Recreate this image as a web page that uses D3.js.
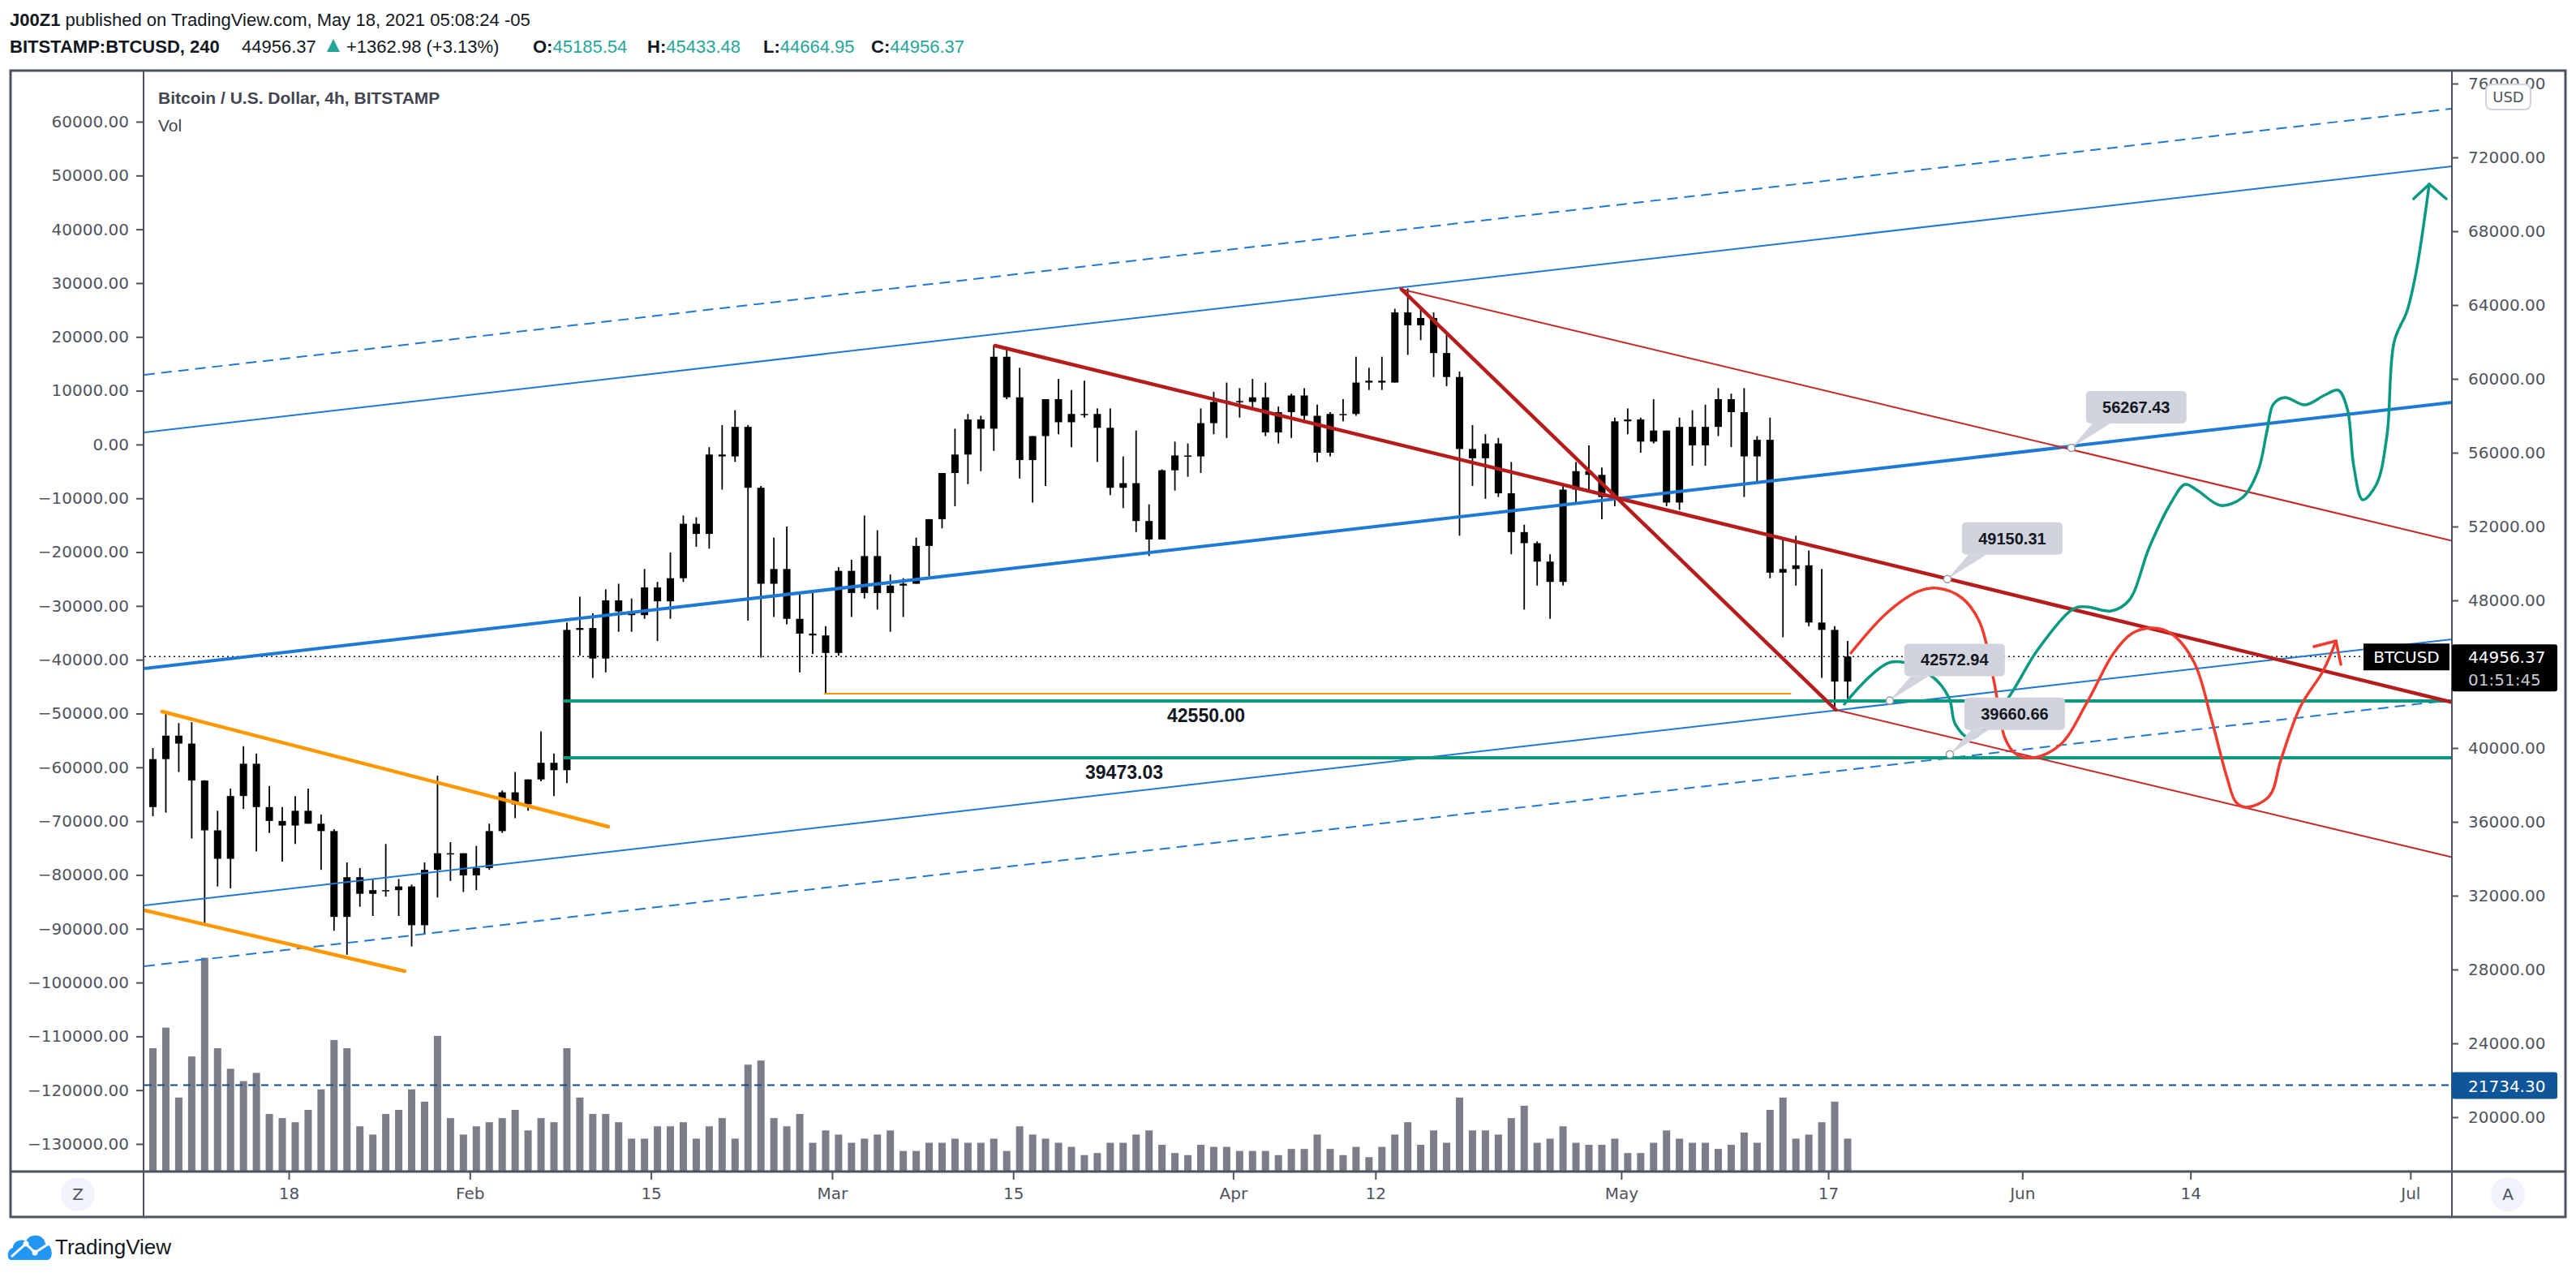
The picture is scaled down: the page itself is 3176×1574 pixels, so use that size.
<!DOCTYPE html>
<html>
<head>
<meta charset="utf-8">
<script src="https://cdn.jsdelivr.net/npm/d3@7"></script>
<style>
  body { margin: 0; background: #fff; }
  text { font-family: "Liberation Sans", Arial, sans-serif; }
  .ax text { font-family: "DejaVu Sans", sans-serif; font-size: 20px; fill: #50535e; }
  .ax line { stroke: #50535e; stroke-width: 2; }
</style>
</head>
<body>
<div id="chart"></div>
<script>
/// Daily candles, Jan 7 - May 18 2021 (BITSTAMP:BTCUSD) ///
var opens = [36800,39400,40670,40240,38240,35540,34000,37400,39150,36800,36050,35800,36600,35900,35500,30850,33000,32100,32300,32300,32500,30400,33400,34300,34300,
  33100,33500,35500,37600,36950,38300,39200,38800,46400,46500,44850,48000,47400,47200,48700,47950,49200,52150,51600,55900,55800,57400,54100,48900,49700,47000,46200,46100,
  45150,49600,48400,50400,48400,48800,48900,50950,52400,54900,55900,57800,57300,61200,59000,55600,56900,58900,57650,58100,58100,57350,54100,54350,52300,51300,55050,55850,55800,57600,58750,
  58800,58750,59000,57100,58200,59100,58000,56000,58100,58100,59800,59900,59800,63600,62900,63300,61400,60100,56200,55700,56500,53800,51700,51100,50100,49000,54000,55000,54800,53600,
  57700,57800,56600,57200,53300,57400,56400,57400,58900,58200,55800,56700,49500,49700,49900,46800,46400,43600];
var highs = [40000,41950,41350,41400,38260,36600,37800,40100,39700,37950,36800,37400,37800,36400,35600,33800,33500,32900,34800,32900,32600,33800,38500,34900,34300,
  34700,35900,37700,38700,38300,40900,39700,46800,48200,47300,48600,48900,48100,49700,49000,50600,52600,52500,56300,57500,58300,57500,54200,51400,52000,48400,48400,46600,
  49800,50200,52600,51800,49400,49200,51400,52400,54900,57300,58100,58000,61800,61700,60600,56900,58900,60000,59400,59900,58400,58400,55800,57200,53200,55100,56600,56500,58400,59300,59800,
  59500,60000,59800,58500,59200,59500,58600,58200,58900,61200,60600,61200,63800,64900,63800,63600,62500,60400,57500,57000,56800,55500,52100,51200,50500,54300,55500,56400,55200,57900,
  58400,57900,58900,57200,57900,58300,58600,59500,59200,59500,56900,57900,51300,51500,50700,49700,46600,45800];
var lows = [36300,36500,38700,35100,30400,32500,32400,36700,34400,35400,33850,34800,35900,33400,30100,28800,31400,30900,31950,30900,29250,29900,31900,32800,32200,
  32300,33400,35400,36200,36600,38200,37400,38100,45000,43800,44100,46300,46300,47000,45800,47000,49000,50900,50800,54000,55500,46900,44900,47100,46700,44100,45100,42950,
  45000,47100,48100,47500,46300,47100,48900,49300,51900,53100,54300,55000,56100,58900,54600,53300,54200,57000,56300,57900,55500,53700,53000,51700,50400,51300,53950,54700,54900,57000,56800,
  57900,58400,56900,56500,56800,57600,55500,55800,57700,58000,59400,59400,59800,61300,62100,60100,59600,51500,54200,53500,53600,50500,47500,48800,47000,48800,53300,53900,52400,53100,
  57000,56000,56500,53100,52900,55300,55300,56900,56300,53600,54400,49200,46000,48800,46600,43800,42100,42500];
var closes = [39400,40670,40240,38240,35540,34000,37400,39150,36800,36050,35800,36600,35900,35500,30850,33000,32100,32300,32300,32500,30400,33400,34300,34300,33100,
  33500,35500,37600,36950,38300,39200,38800,46400,46500,44850,48000,47400,47200,48700,47950,49200,52150,51600,55900,55800,57400,54100,48900,49700,47000,46200,46100,45150,
  49600,48400,50400,48400,48800,48900,50950,52400,54900,55900,57800,57300,61200,59000,55600,56900,58900,57650,58100,58100,57350,54100,54350,52300,51300,55050,55850,55800,57600,58750,58800,
  58750,59000,57100,58200,59100,58000,56000,58100,58100,59800,59900,59800,63600,62900,63300,61400,60100,56200,55700,56500,53800,51700,51100,50100,49000,54000,55000,54800,53600,57700,
  57800,56600,57200,53300,57400,56400,57400,58900,58200,55800,56700,49500,49700,49900,46800,46400,43600,44956.37];
var volumes = [30000,35000,18000,28000,52000,30000,25000,22000,24000,14000,13000,12000,15000,20000,32000,30000,11000,9000,14000,15000,20000,17000,33000,13000,9000,
  11000,12000,13000,15000,10000,13000,12000,30000,18000,14000,14000,12000,8000,8000,11000,11000,12000,8000,11000,13000,8000,26000,27000,13000,11000,14000,7000,10000,
  9000,7000,8000,9000,10000,5000,5000,7000,7000,8000,7000,7000,8000,5000,11000,9000,8000,7000,6000,4000,4500,7000,7000,9000,10000,6500,4500,4000,6500,6000,6000,
  5000,5000,5000,4000,5500,5500,9000,5500,4000,6000,3500,6000,9000,12000,6500,10000,7000,18000,10000,10000,9000,13000,16000,7000,8000,11000,7000,6500,6500,8000,
  4500,4500,7000,10000,8000,7000,7000,5500,6500,9500,7000,15000,18000,8000,9000,12000,17000,8000];

/// Axis ticks ///
var timeTicks = ["2021-01-18","2021-02-01","2021-02-15","2021-03-01","2021-03-15","2021-04-01","2021-04-12","2021-05-01","2021-05-17","2021-06-01","2021-06-14","2021-07-01"];
var timeLabels = ["18","Feb","15","Mar","15","Apr","12","May","17","Jun","14","Jul"];
// 44000 sits under the last-price label, so the price scale leaves it out
var rightTicks = [20000,24000,28000,32000,36000,40000,48000,52000,56000,60000,64000,68000,72000,76000];
var leftTicks = d3.range(-130000, 60001, 10000);

/// Drawings: [date, price] ///
var blueUpperDash = [["2021-01-07", 60233], ["2021-07-03", 74545]];
var blueUpper = [["2021-01-07", 57112], ["2021-07-03", 71424]];
var blueMid = [["2021-01-07", 44320], ["2021-07-03", 58632]];
var blueLower = [["2021-01-07", 31486], ["2021-07-03", 45798]];
var blueLowerDash = [["2021-01-07", 28189], ["2021-07-03", 42501]];
var orangeUpper = [["2021-01-08 05:00", 41978], ["2021-02-11 17:00", 35736]];
var orangeLower = [["2021-01-06 20:10", 31209], ["2021-01-26 23:00", 27912]];
var orangeFlat = [["2021-02-28 10:00", 42950], ["2021-05-14 02:00", 42950]];
var redTrendA = [["2021-03-13 14:00", 61800], ["2021-07-04 05:00", 42480]];
var redTrendB = [["2021-04-14 00:00", 64860], ["2021-05-17 14:00", 42070]];
var redChanUpper = [["2021-04-14 00:00", 64860], ["2021-07-04 05:00", 51233]];
var redChanLower = [["2021-05-17 14:00", 42070], ["2021-07-04 05:00", 34083]];
var supportLevels = [42550.00, 39473.03];
var supportStart = "2021-02-08 06:00";
var lastPrice = 44956.37;
var volLevel = 21734.30;

var tealPath = [["2021-05-18 06:00",42374],["2021-05-21 21:00",44659],["2021-05-24 23:00",43912],["2021-05-26 08:00",42725],
  ["2021-05-26 20:00",41275],["2021-05-28 01:00",40527],["2021-05-30 19:00",42594],["2021-06-02 05:30",45363],["2021-06-05 00:00",47560],
  ["2021-06-06 00:00",47648],["2021-06-07 21:00",47428],["2021-06-09 06:00",48000],["2021-06-10 20:00",50901],["2021-06-12 12:30",53319],
  ["2021-06-13 14:00",54286],["2021-06-14 14:00",53934],["2021-06-16 08:00",53143],["2021-06-18 01:00",53582],["2021-06-19 05:30",55033],
  ["2021-06-19 22:00",57187],["2021-06-20 10:00",58637],["2021-06-21 07:00",58989],["2021-06-22 20:30",58593],["2021-06-24 09:00",59121],
  ["2021-06-25 10:00",59385],["2021-06-26 03:00",58374],["2021-06-26 15:00",55253],["2021-06-27 07:30",53451],["2021-06-28 09:00",54286],
  ["2021-06-29 04:30",56923],["2021-06-29 18:00",62022],["2021-06-30 18:00",63692],["2021-07-01 11:00",65846],["2021-07-02 11:00",70549]];
var tealHead = [["2021-07-01 06:00",69758],["2021-07-02 11:00",70549],["2021-07-03 18:30",69758]];
var redPath = [["2021-05-18 18:00",45143],["2021-05-21 12:00",47297],["2021-05-23 23:00",48484],["2021-05-25 11:00",48659],
  ["2021-05-27 08:00",48132],["2021-05-28 17:00",46813],["2021-05-29 19:00",43692],["2021-05-30 16:00",40527],["2021-05-31 11:30",39692],
  ["2021-06-01 20:30",39473],["2021-06-03 22:30",40176],["2021-06-06 00:00",42462],["2021-06-08 01:30",45143],["2021-06-09 11:00",46198],
  ["2021-06-11 00:00",46505],["2021-06-12 12:30",46198],["2021-06-14 06:30",44659],["2021-06-15 15:30",41494],["2021-06-16 20:00",38374],
  ["2021-06-17 12:45",37055],["2021-06-18 08:30",36791],["2021-06-20 02:30",37407],["2021-06-20 23:30",39341],["2021-06-22 12:00",42242],
  ["2021-06-24 06:00",44176],["2021-06-25 06:00",45800]];
var redHead = [["2021-06-23 13:00",45495],["2021-06-25 06:00",45800],["2021-06-25 15:00",44527]];

var calloutDates = ["2021-06-04 19:00","2021-05-26 05:00","2021-05-21 18:00","2021-05-26 09:30"];
var calloutPrices = [56267.43, 49150.31, 42572.94, 39660.66];

/// SVG area ///
var svgWidth = 3176, svgHeight = 1574;
var plot = { left: 178, right: 3023, top: 87, bottom: 1444 };

var svg = d3.select("#chart").append("svg")
    .attr("width", svgWidth)
    .attr("height", svgHeight);

var parseTime = d3.utcParse("%Y-%m-%d %H:%M");
function t(s) { return s.length > 10 ? parseTime(s) : parseTime(s + " 00:00"); }

var x = d3.scaleUtc()
    .domain([t("2021-01-06 20:10"), t("2021-07-04 05:00")])
    .range([plot.left, plot.right]);
var y = d3.scaleLinear().domain([20000, 72000]).range([1377, 194]);
var yLeft = d3.scaleLinear().domain([-130000, 60000]).range([1410, 150]);
var yVol = d3.scaleLinear().domain([0, 60000]).range([plot.bottom, 1140]);

var days = d3.utcDay.range(t("2021-01-07"), t("2021-05-19"));
var candles = days.map(function (d, i) {
    return { date: d3.utcHour.offset(d, 12), o: opens[i], h: highs[i], l: lows[i], c: closes[i], v: volumes[i] };
});

svg.append("defs").append("clipPath").attr("id", "clip")
  .append("rect")
    .attr("x", plot.left).attr("y", plot.top)
    .attr("width", plot.right - plot.left).attr("height", plot.bottom - plot.top);

var pane = svg.append("g").attr("clip-path", "url(#clip)");

// Volume
pane.append("g").selectAll("rect").data(candles).enter().append("rect")
    .attr("x", d => x(d.date) - 4.5)
    .attr("width", 9)
    .attr("y", d => yVol(d.v))
    .attr("height", d => plot.bottom - yVol(d.v))
    .attr("fill", "#7b7e88");

// Horizontal level lines
pane.append("line")
    .attr("x1", plot.left).attr("x2", plot.right)
    .attr("y1", y(volLevel)).attr("y2", y(volLevel))
    .attr("stroke", "#0d4f8b").attr("stroke-width", 2).attr("stroke-dasharray", "9,7");
pane.append("line")
    .attr("x1", plot.left).attr("x2", plot.right)
    .attr("y1", y(lastPrice)).attr("y2", y(lastPrice))
    .attr("stroke", "#131722").attr("stroke-width", 1.6).attr("stroke-dasharray", "2,4");

// Candles
var cg = pane.append("g");
cg.selectAll("line").data(candles).enter().append("line")
    .attr("x1", d => x(d.date)).attr("x2", d => x(d.date))
    .attr("y1", d => y(d.h)).attr("y2", d => y(d.l))
    .attr("stroke", "#000").attr("stroke-width", 1.8);
cg.selectAll("rect").data(candles).enter().append("rect")
    .attr("x", d => x(d.date) - 4.5)
    .attr("width", 9)
    .attr("y", d => y(Math.max(d.o, d.c)))
    .attr("height", d => Math.max(1.5, Math.abs(y(d.o) - y(d.c))))
    .attr("fill", "#000");

// Trend lines
function seg(pts, color, w, dash) {
    pane.append("line")
        .attr("x1", x(t(pts[0][0]))).attr("y1", y(pts[0][1]))
        .attr("x2", x(t(pts[1][0]))).attr("y2", y(pts[1][1]))
        .attr("stroke", color).attr("stroke-width", w)
        .attr("stroke-dasharray", dash || null)
        .attr("stroke-linecap", "round");
}
function extended(pts, color, w, dash) {
    var x1 = x(t(pts[0][0])), y1 = y(pts[0][1]), x2 = x(t(pts[1][0])), y2 = y(pts[1][1]);
    var k = (y2 - y1) / (x2 - x1);
    pane.append("line")
        .attr("x1", plot.left).attr("y1", y1 + (plot.left - x1) * k)
        .attr("x2", plot.right).attr("y2", y1 + (plot.right - x1) * k)
        .attr("stroke", color).attr("stroke-width", w)
        .attr("stroke-dasharray", dash || null);
}

extended(blueUpperDash, "#1e78d6", 2, "13,8");
extended(blueUpper, "#1e78d6", 2);
extended(blueMid, "#1e78d6", 4);
extended(blueLower, "#1e78d6", 2);
extended(blueLowerDash, "#1e78d6", 2, "13,8");

seg(orangeUpper, "#ff9800", 4.5);
seg(orangeLower, "#ff9800", 4.5);
seg(orangeFlat, "#ff9800", 2);

supportLevels.forEach(function (p) {
    pane.append("line")
        .attr("x1", x(t(supportStart))).attr("x2", plot.right)
        .attr("y1", y(p)).attr("y2", y(p))
        .attr("stroke", "#089981").attr("stroke-width", 4);
});

seg(redChanUpper, "#c62828", 2);
seg(redChanLower, "#c62828", 2);
seg(redTrendA, "#b71c1c", 4.5);
seg(redTrendB, "#b71c1c", 4.5);

// Projection paths
var pathLine = d3.line()
    .x(d => x(t(d[0])))
    .y(d => y(d[1]))
    .curve(d3.curveCatmullRom.alpha(0.5));
var headLine = d3.line().x(d => x(t(d[0]))).y(d => y(d[1]));

pane.append("path").attr("d", pathLine(redPath))
    .attr("fill", "none").attr("stroke", "#f23b2f").attr("stroke-width", 3.5).attr("stroke-linecap", "round");
pane.append("path").attr("d", headLine(redHead))
    .attr("fill", "none").attr("stroke", "#f23b2f").attr("stroke-width", 3.5).attr("stroke-linecap", "round").attr("stroke-linejoin", "round");
pane.append("path").attr("d", pathLine(tealPath))
    .attr("fill", "none").attr("stroke", "#089981").attr("stroke-width", 3.5).attr("stroke-linecap", "round");
pane.append("path").attr("d", headLine(tealHead))
    .attr("fill", "none").attr("stroke", "#089981").attr("stroke-width", 3.5).attr("stroke-linecap", "round").attr("stroke-linejoin", "round");

// Level captions
pane.append("text").attr("x", 1487).attr("y", y(supportLevels[0]) + 26)
    .attr("text-anchor", "middle").attr("font-size", 23).attr("font-weight", "bold").attr("fill", "#131722")
    .text(d3.format(".2f")(supportLevels[0]));
pane.append("text").attr("x", 1386).attr("y", y(supportLevels[1]) + 26)
    .attr("text-anchor", "middle").attr("font-size", 23).attr("font-weight", "bold").attr("fill", "#131722")
    .text(d3.format(".2f")(supportLevels[1]));

// Price callouts
calloutPrices.forEach(function (p, i) {
    var ax = x(t(calloutDates[i])), ay = y(p);
    var bx = ax + 18, by = ay - 70;
    var g = pane.append("g");
    g.append("path")
        .attr("d", `M${ax},${ay} L${bx + 8},${by + 40} L${bx + 30},${by + 40} Z`)
        .attr("fill", "#d1d4dc");
    g.append("rect").attr("x", bx).attr("y", by).attr("width", 124).attr("height", 40).attr("rx", 5)
        .attr("fill", "#d1d4dc");
    g.append("text").attr("x", bx + 62).attr("y", by + 27)
        .attr("text-anchor", "middle").attr("font-size", 20).attr("font-weight", "bold").attr("fill", "#131722")
        .text(d3.format(".2f")(p));
    g.append("circle").attr("cx", ax).attr("cy", ay).attr("r", 4.5)
        .attr("fill", "#fff").attr("stroke", "#9598a1").attr("stroke-width", 1.5);
});

// Legend inside the pane
svg.append("text").attr("x", 195).attr("y", 128).attr("font-size", 21).attr("font-weight", "bold")
    .attr("fill", "#434651").text("Bitcoin / U.S. Dollar, 4h, BITSTAMP");
svg.append("text").attr("x", 195).attr("y", 162).attr("font-size", 21)
    .attr("fill", "#434651").text("Vol");

// Axes
var right_axis = d3.axisRight(y).tickValues(rightTicks).tickFormat(d3.format(".2f")).tickSize(8).tickPadding(12);
svg.append("g").attr("class", "ax").attr("transform", `translate(${plot.right},0)`).call(right_axis)
    .call(g => g.select(".domain").remove());

var left_axis = d3.axisLeft(yLeft).tickValues(leftTicks).tickFormat(d3.format(".2f")).tickSize(9).tickPadding(9);
svg.append("g").attr("class", "ax").attr("transform", `translate(${plot.left - 1},0)`).call(left_axis)
    .call(g => g.select(".domain").remove());

var lower_axis = d3.axisBottom(x).tickValues(timeTicks.map(t)).tickFormat((d, i) => timeLabels[i]).tickSize(10).tickPadding(10);
svg.append("g").attr("class", "ax").attr("transform", `translate(0,${plot.bottom})`).call(lower_axis)
    .call(g => g.select(".domain").remove())
    .selectAll("text").attr("font-size", 21);

// Frame
var frame = svg.append("g").attr("fill", "none").attr("stroke", "#4c525e");
frame.append("rect").attr("x", 13).attr("y", 87).attr("width", 3150).attr("height", 1413).attr("stroke-width", 3);
frame.append("line").attr("x1", plot.left - 1).attr("x2", plot.left - 1).attr("y1", 87).attr("y2", 1500).attr("stroke-width", 2);
frame.append("line").attr("x1", plot.right).attr("x2", plot.right).attr("y1", 87).attr("y2", 1500).attr("stroke-width", 2);
frame.append("line").attr("x1", 13).attr("x2", 3163).attr("y1", plot.bottom).attr("y2", plot.bottom).attr("stroke-width", 3);

// Scale labels
svg.append("rect").attr("x", 3065).attr("y", 104).attr("width", 55).attr("height", 31).attr("rx", 7)
    .attr("fill", "#fff").attr("stroke", "#d1d4dc").attr("stroke-width", 2);
svg.append("text").attr("x", 3092.5).attr("y", 126).attr("text-anchor", "middle")
    .style("font-family", "DejaVu Sans").attr("font-size", 18).attr("fill", "#50535e").text("USD");

svg.append("rect").attr("x", plot.right).attr("y", y(lastPrice) - 15).attr("width", 130).attr("height", 58).attr("rx", 3).attr("fill", "#000");
svg.append("text").attr("x", plot.right + 20).attr("y", y(lastPrice) + 8)
    .style("font-family", "DejaVu Sans").attr("font-size", 20).attr("fill", "#fff").text(d3.format(".2f")(lastPrice));
svg.append("text").attr("x", plot.right + 20).attr("y", y(lastPrice) + 36)
    .style("font-family", "DejaVu Sans").attr("font-size", 20).attr("fill", "#c8cad0").text("01:51:45");
svg.append("rect").attr("x", 2914).attr("y", y(lastPrice) - 16).attr("width", 106).attr("height", 33).attr("fill", "#000");
svg.append("text").attr("x", 2967).attr("y", y(lastPrice) + 8).attr("text-anchor", "middle")
    .style("font-family", "DejaVu Sans").attr("font-size", 20).attr("fill", "#fff").text("BTCUSD");

svg.append("rect").attr("x", plot.right).attr("y", y(volLevel) - 16).attr("width", 130).attr("height", 33).attr("rx", 3).attr("fill", "#0f559a");
svg.append("text").attr("x", plot.right + 20).attr("y", y(volLevel) + 8)
    .style("font-family", "DejaVu Sans").attr("font-size", 20).attr("fill", "#fff").text(d3.format(".2f")(volLevel));

// Z / A buttons
[[96, "Z"], [3092, "A"]].forEach(function (b) {
    svg.append("circle").attr("cx", b[0]).attr("cy", 1472).attr("r", 21).attr("fill", "#f0f3fa");
    svg.append("text").attr("x", b[0]).attr("y", 1479).attr("text-anchor", "middle")
        .style("font-family", "DejaVu Sans").attr("font-size", 20).attr("fill", "#50535e").text(b[1]);
});

// Header
var h1 = svg.append("text").attr("x", 12).attr("y", 32).attr("font-size", 22).attr("fill", "#131722");
h1.append("tspan").attr("font-weight", "bold").text("J00Z1");
h1.append("tspan").text(" published on TradingView.com, May 18, 2021 05:08:24 -05");

var teal = "#26a69a";
svg.append("text").attr("x", 12).attr("y", 65).attr("font-size", 22).attr("font-weight", "bold").attr("fill", "#131722").text("BITSTAMP:BTCUSD, 240");
svg.append("text").attr("x", 298).attr("y", 65).attr("font-size", 22).attr("fill", "#131722").text("44956.37");
svg.append("path").attr("d", "M403,64 L411,48 L419,64 Z").attr("fill", teal);
svg.append("text").attr("x", 427).attr("y", 65).attr("font-size", 22).attr("fill", "#131722").text("+1362.98 (+3.13%)");
[["O:", "45185.54", 657], ["H:", "45433.48", 798], ["L:", "44664.95", 941], ["C:", "44956.37", 1074]].forEach(function (o) {
    var tx = svg.append("text").attr("x", o[2]).attr("y", 65).attr("font-size", 22);
    tx.append("tspan").attr("font-weight", "bold").attr("fill", "#131722").text(o[0]);
    tx.append("tspan").attr("fill", teal).text(o[1]);
});

// TradingView logo
var logo = svg.append("g");
logo.append("path")
    .attr("d", "M14,1553 C8,1553 8,1540 16,1538 C16,1530 26,1526 32,1530 C36,1520 54,1520 56,1533 C66,1535 66,1553 58,1553 Z")
    .attr("fill", "#2196f3");
logo.append("polyline").attr("points", "14,1549 32,1533 43,1544 60,1533")
    .attr("fill", "none").attr("stroke", "#fff").attr("stroke-width", 3);
logo.selectAll("circle").data([[32, 1533], [43, 1544]]).enter().append("circle")
    .attr("cx", d => d[0]).attr("cy", d => d[1]).attr("r", 3.5).attr("fill", "#fff");
svg.append("text").attr("x", 68).attr("y", 1546).attr("font-size", 26).attr("fill", "#131722").text("TradingView");
</script>
</body>
</html>
